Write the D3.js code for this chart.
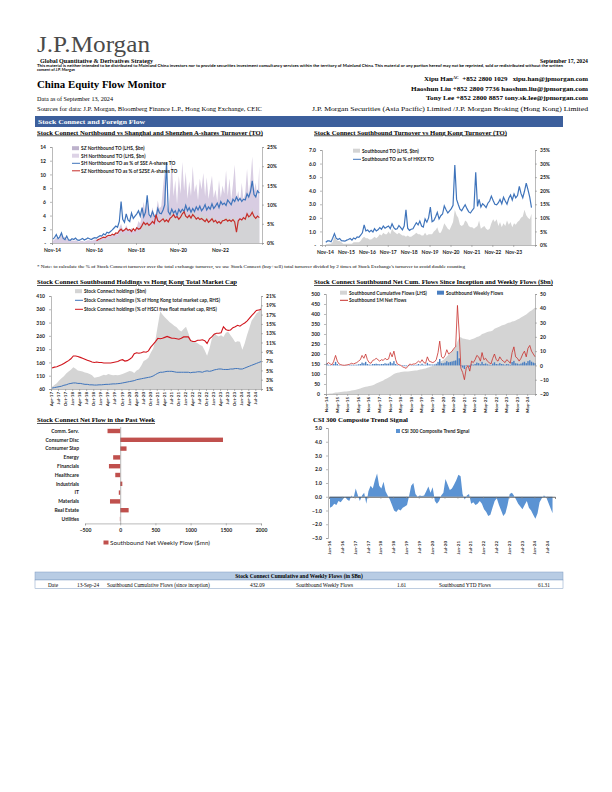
<!DOCTYPE html>
<html>
<head>
<meta charset="utf-8">
<script src="https://cdn.jsdelivr.net/npm/d3@7"></script>
<style>
body{margin:0;background:#fff;}
.ax text{font-family:Lato,"Open Sans",sans-serif;font-weight:bold;font-size:5px;fill:#222;}
.ax path,.ax line{stroke:#8c8c8c;stroke-width:0.6;}
</style>
</head>
<body>
<div id="page"></div>
<script>
// ---- chart 1: northbound turnover (monthly, Nov-14 .. Sep-24)
var nbStart = new Date(2014, 10, 15);
var nbShTO = [0.3,0.5,
  0.8,0.4,0.7,1.3,0.8,0.9,0.6,0.4,0.3,0.4,0.3,0.4,
  0.3,0.2,0.3,0.3,0.2,0.3,0.4,0.4,0.3,0.4,0.5,0.5,
  0.6,0.7,0.6,0.8,0.7,0.9,1.0,0.9,1.2,1.1,1.4,1.2,
  2.2,2.8,2.0,1.9,2.6,2.0,1.8,2.2,1.7,1.9,2.3,3.2,
  2.8,4.6,6.0,4.2,6.4,3.8,4.0,5.2,3.9,4.4,6.2,5.0,
  5.4,8.2,10.6,5.6,4.8,7.4,12.4,6.8,9.2,5.6,9.8,7.2,
  11.8,7.6,10.4,6.4,9.0,6.8,11.2,7.4,8.6,6.2,9.4,7.8,
  10.2,6.8,9.6,6.4,8.2,9.8,6.6,7.8,6.0,9.2,6.6,8.4,
  7.2,10.6,6.8,9.4,6.2,8.6,11.4,6.4,7.6,5.8,8.8,6.2,
  7.4,10.8,7.0,9.2,12.6,7.6,8.8,6.4,11.2];
var nbShPct = [1.0,1.4,
  2.2,1.1,1.6,2.6,1.2,0.9,1.8,0.8,0.7,1.1,0.9,1.3,
  0.8,0.7,0.9,1.2,0.8,1.0,1.3,1.1,0.9,1.2,1.4,1.3,
  1.6,1.9,1.8,2.4,2.1,2.8,2.6,3.0,3.4,3.9,4.4,4.1,
  5.6,10.8,6.2,5.4,7.6,6.0,5.6,7.8,6.4,7.0,7.6,8.4,
  7.0,9.2,6.8,8.0,12.4,7.4,6.8,8.2,7.0,6.6,9.0,7.8,
  7.6,8.6,10.0,21.0,8.2,7.4,8.8,7.8,8.4,7.2,8.8,8.0,
  8.8,8.2,9.8,8.4,9.2,8.0,9.0,8.2,9.4,8.6,9.6,8.4,
  9.0,10.0,8.6,9.4,8.8,10.2,9.0,9.6,10.4,9.2,10.8,10.0,
  10.4,9.8,11.2,10.6,10.0,11.4,10.8,12.0,11.0,11.6,10.8,11.4,
  11.2,12.8,12.0,13.4,16.2,12.6,12.0,13.6,13.0];
// Shenzhen connect starts Dec-16
var szStart = new Date(2016, 11, 15);
var nbSzTO = [0.1,
  0.2,0.3,0.3,0.4,0.4,0.5,0.6,0.6,0.7,0.7,0.8,0.8,
  1.2,1.6,1.3,1.2,1.6,1.4,1.2,1.3,1.2,1.3,1.5,1.7,
  1.6,2.6,3.2,2.8,3.0,2.4,2.4,2.8,2.6,2.6,3.0,3.0,
  3.2,3.8,4.2,3.4,3.0,3.6,4.8,4.2,3.8,3.6,4.2,4.0,
  5.0,4.8,4.4,3.8,4.2,4.0,4.6,4.4,4.0,3.8,4.0,4.4,
  4.0,3.8,4.2,3.6,3.4,4.0,3.6,3.4,3.2,3.2,3.6,3.4,
  3.6,3.8,3.6,3.8,3.4,3.6,3.8,3.4,3.2,3.2,3.4,3.4,
  3.6,4.2,4.0,4.0,5.2,4.2,3.8,3.6,4.4];
var nbSzPct = [0.6,
  0.9,1.1,1.3,1.5,1.4,1.8,2.0,1.9,2.3,2.1,2.6,2.5,
  3.2,3.6,3.1,3.4,3.8,3.3,3.5,3.0,3.7,3.2,4.0,3.6,
  3.8,4.6,5.4,4.8,5.2,4.6,5.0,5.6,5.1,7.4,5.8,5.5,
  5.9,6.3,5.6,6.0,5.5,6.4,6.8,7.4,6.6,6.9,6.2,6.7,
  7.6,8.1,7.0,6.6,7.2,6.5,7.4,6.9,6.2,6.6,6.1,6.4,
  6.0,5.6,6.2,5.4,5.8,6.3,5.5,5.9,5.2,5.6,5.1,5.8,
  5.9,6.2,5.7,6.0,5.6,6.1,5.5,2.8,5.8,6.3,6.0,6.6,
  6.2,7.6,6.8,7.2,8.0,6.9,6.4,7.0,6.6];

// ---- chart 2: southbound turnover (monthly, Nov-14 .. Sep-24)
var sbTO = [0.05,0.08,
  0.1,0.1,0.2,0.6,0.4,0.3,0.3,0.2,0.1,0.1,0.1,0.1,
  0.1,0.1,0.2,0.2,0.2,0.2,0.3,0.5,0.6,0.5,0.5,0.4,
  0.4,0.5,0.6,0.5,0.6,0.8,0.7,0.9,0.8,0.8,1.0,0.8,
  1.2,1.0,0.9,0.8,0.9,0.8,0.7,0.7,0.6,0.7,0.6,0.6,
  0.7,0.8,0.9,0.8,0.8,0.7,0.7,0.9,0.7,0.8,0.8,0.8,
  1.0,1.1,1.3,0.9,0.9,1.2,1.6,1.4,1.2,1.1,1.4,1.7,
  2.6,2.2,2.0,1.5,1.4,1.5,1.8,1.7,1.4,1.3,1.3,1.2,
  1.3,1.4,1.8,1.2,1.3,1.4,1.2,1.1,1.2,1.6,1.9,1.7,
  1.9,1.4,1.7,1.3,1.6,1.4,1.8,1.5,1.7,1.3,1.6,1.5,
  1.7,1.8,2.0,2.1,2.6,2.2,2.0,1.9,2.3];
var sbPct = [1.0,1.5,
  1.5,1.2,2.5,4.2,2.5,2.0,2.4,1.6,1.5,1.4,1.8,2.0,
  2.4,1.8,2.6,2.2,3.0,2.8,3.6,4.5,7.4,5.2,5.5,4.8,
  5.4,4.8,6.0,5.2,5.6,6.4,5.8,7.0,6.2,6.6,7.0,6.0,
  7.8,6.4,5.8,6.0,7.2,6.4,5.6,7.0,13.0,6.2,5.4,5.8,
  6.0,7.2,8.2,7.4,8.8,7.0,6.6,9.6,8.4,10.0,14.0,8.6,
  9.0,10.4,12.0,9.6,10.8,11.4,14.4,13.0,11.8,12.6,13.4,14.6,
  29.5,16.8,15.0,13.2,12.6,13.8,14.8,13.4,12.2,11.8,12.8,13.6,
  26.8,14.2,16.8,14.0,15.2,14.6,13.8,15.4,16.2,18.0,16.4,15.0,
  14.8,15.6,16.8,15.2,17.6,16.2,15.0,17.2,18.4,16.6,18.8,17.4,
  18.2,21.6,19.0,17.4,19.8,22.8,20.4,17.6,13.8];

// ---- chart 3: southbound holdings (monthly, Apr-17 .. Sep-24)
var hStart = new Date(2017, 3, 15);
var holdings = [68,75,82,92,100,108,118,126,132,
  142,136,130,128,126,122,120,116,112,102,104,106,
  110,114,112,116,114,112,113,112,114,116,120,124,
  128,126,120,130,134,148,165,170,178,196,212,245,
  300,352,340,330,322,312,306,298,292,282,276,286,
  294,270,246,240,236,232,226,222,205,185,212,248,
  270,262,258,262,256,272,275,262,250,236,240,238,
  208,232,262,290,318,330,344,352,372];
var hkCapPct = [1.2,1.3,1.4,1.5,1.6,1.8,1.9,2.1,2.2,
  2.3,2.3,2.2,2.2,2.1,2.0,2.0,1.9,1.9,1.85,1.85,1.9,
  1.9,1.95,2.0,2.0,2.05,2.1,2.1,2.15,2.2,2.3,2.4,2.5,
  2.6,2.7,2.8,3.0,3.1,3.2,3.3,3.4,3.5,3.6,3.8,4.1,
  4.4,4.6,4.6,4.7,4.8,4.8,4.8,4.7,4.6,4.6,4.6,4.6,
  4.6,4.6,4.5,4.6,4.6,4.7,4.7,4.6,4.8,4.9,4.8,4.9,
  5.1,5.2,5.3,5.3,5.2,5.2,5.2,5.3,5.3,5.4,5.4,5.3,
  5.3,5.5,5.7,5.9,6.1,6.3,6.5,6.7,6.9];
var hsciFfPct = [5.5,5.7,5.8,6.0,6.2,6.5,6.8,7.1,7.5,
  8.1,8.1,8.0,7.8,7.6,7.4,7.2,7.0,6.8,6.7,6.8,6.7,
  6.7,6.6,6.6,6.6,6.6,6.7,6.8,6.9,7.2,7.3,7.0,7.1,
  7.4,7.8,8.6,8.8,8.7,8.8,9.0,8.9,9.2,10.0,10.6,11.2,
  11.9,11.8,11.9,12.1,12.3,12.1,11.9,11.9,11.8,11.7,11.9,12.2,
  12.2,12.2,11.4,11.2,11.2,11.5,11.5,11.6,11.4,10.8,11.8,12.2,
  12.8,13.0,13.0,13.1,14.4,13.8,13.6,13.7,14.2,14.4,14.7,14.5,
  14.9,15.2,15.6,16.2,16.8,17.3,17.9,18.0,18.1];
var hLabels = ["Apr-17","Jul-17","Oct-17","Jan-18","Apr-18","Jul-18","Oct-18","Jan-19","Apr-19","Jul-19",
  "Oct-19","Jan-20","Apr-20","Jul-20","Oct-20","Jan-21","Apr-21","Jul-21","Oct-21","Jan-22",
  "Apr-22","Jul-22","Oct-22","Jan-23","Apr-23","Jul-23","Oct-23","Jan-24","Apr-24","Jul-24"];

// ---- chart 4: southbound net flows (monthly, Nov-14 .. Sep-24)
var sbCum = [0.5,1.5,
  2,3,5,7,8,9,10,11,12,13,14,15,
  17,19,20,22,25,28,31,34,36,38,40,41,
  44,48,52,56,60,64,68,74,78,82,88,94,
  100,104,106,108,110,111,112,112,113,114,115,116,
  117,118,120,122,124,126,128,131,134,137,140,143,
  145,150,160,165,170,178,188,196,205,215,225,235,
  262,282,284,278,276,274,272,270,274,276,280,285,
  288,292,300,303,306,310,312,314,318,326,330,334,
  338,342,345,348,352,356,358,362,364,368,372,376,
  382,388,392,398,405,412,418,425,432];
var sbWeekly = [1.5,0.5,
  0.3,0.2,1.0,2.5,1.0,0.3,0.2,0.1,0.1,0.2,0.2,0.3,
  0.5,0.3,0.5,0.5,0.8,1.0,2.0,1.5,2.5,1.0,0.6,0.5,
  1.0,1.0,1.2,1.0,0.8,1.0,1.0,1.5,1.2,1.3,2.5,1.5,
  3.0,1.0,0.3,0.2,0.0,-0.4,-0.5,-0.6,-0.2,0.3,0.2,0.3,
  0.3,0.5,1.0,0.5,1.2,0.5,0.5,1.8,0.8,0.7,0.6,0.7,
  1.2,2.5,4.5,1.6,1.5,2.0,3.0,2.2,2.5,2.8,3.2,3.5,
  10.0,5.0,-0.5,-1.5,-2.5,-0.5,0.0,-1.0,0.8,0.5,1.0,2.0,
  1.6,0.8,2.5,1.0,1.4,0.8,0.5,0.3,1.3,2.2,1.0,0.8,
  1.6,1.0,0.8,0.5,1.0,0.8,0.4,2.4,3.2,1.5,1.3,0.8,
  1.3,2.0,2.6,1.6,3.0,3.6,2.6,2.0,1.6];
var sb1m = [1.0,2.0,
  1.0,0.5,3.0,7.0,3.0,1.0,0.5,0.2,0.1,0.3,0.5,0.8,
  1.5,1.0,1.5,2.0,3.0,4.0,7.0,5.0,8.0,4.0,2.0,1.5,
  3.5,4.0,5.0,4.0,3.0,4.0,3.5,5.0,4.0,4.5,9.0,6.0,
  10.0,4.0,1.0,0.5,0.0,-1.0,-1.5,-2.0,-0.5,1.0,0.5,1.0,
  1.0,2.0,3.0,2.0,4.0,2.0,1.5,6.0,3.0,2.5,2.0,2.5,
  4.0,9.0,17.0,6.0,5.0,7.0,11.0,8.0,9.0,10.0,12.0,13.0,
  42.0,22.0,-2.0,-5.0,-10.0,-2.0,0.0,-4.0,3.0,2.0,4.0,7.0,
  6.0,3.0,9.0,4.0,5.0,3.0,2.0,1.0,5.0,8.0,4.0,3.0,
  6.0,4.0,3.0,2.0,4.0,3.0,1.5,9.0,13.0,6.0,5.0,3.0,
  5.0,8.0,10.0,6.0,12.0,14.0,10.0,8.0,6.0];

// ---- chart 5: net flow by sector, past week ($mn)
var sectors = ["Comm. Serv.","Consumer Disc","Consumer Stap","Energy","Financials","Healthcare",
  "Industrials","IT","Materials","Real Estate","Utilities"];
var sectorFlow = [-180,1460,90,-100,-160,-70,30,-20,-145,120,-5];

// ---- chart 6: CSI 300 composite trend signal (monthly, Jan-16 .. Sep-24)
var csiStart = new Date(2016, 0, 15);
var csiSignal = [-0.8,-0.7,-0.5,-0.6,-0.3,-0.4,-0.2,0.0,-0.2,-0.3,0.1,-0.1,
  0.6,0.1,-0.3,0.1,0.3,-0.5,0.4,0.8,0.6,1.2,1.7,0.8,
  0.6,1.1,0.4,0.1,-0.2,-0.6,-1.0,-1.1,-0.9,-1.0,-0.8,-0.7,
  -0.6,0.1,0.8,1.0,0.2,0.0,0.1,0.05,0.1,0.4,0.75,0.3,
  0.7,-0.3,-0.5,-0.3,0.1,0.3,1.3,0.9,0.5,0.6,0.9,1.2,
  1.6,1.5,0.2,-0.2,0.1,0.2,-0.5,-0.4,-0.6,-0.5,-0.3,-0.5,
  -0.9,-1.1,-1.4,-1.3,-0.8,-0.3,-0.1,-0.6,-1.0,-1.4,-1.2,-0.6,
  0.2,0.3,0.1,-0.2,-0.5,-0.7,-0.9,-0.6,-0.3,-0.8,-1.0,-1.3,
  -1.6,-1.2,-0.4,-0.1,0.1,0.0,-0.4,-0.8,-1.2];
var csiLabels = ["Jan-16","Jul-16","Jan-17","Jul-17","Jan-18","Jul-18","Jan-19","Jul-19","Jan-20",
  "Jul-20","Jan-21","Jul-21","Jan-22","Jul-22","Jan-23","Jul-23","Jan-24","Jul-24"];

// ---- summary table
var tableRow = ["Date","13-Sep-24","Southbound Cumulative Flows (since inception)","432.09",
  "Southbound Weekly Flows","1.61","Southbound YTD Flows","61.31"];

var SERIF = "'Liberation Serif','Times New Roman',serif";
var SANS = "Lato,'Open Sans',sans-serif";
var fmtMon = d3.timeFormat("%b-%y");
var parseMon = d3.timeParse("%b-%y");

var svg = d3.select("#page").append("svg")
  .attr("width", 612)
  .attr("height", 792);

function addText(x, y, s, size, o){
  o = o || {};
  var t = svg.append("text")
    .attr("x", x).attr("y", y)
    .attr("text-anchor", o.anchor || "start")
    .attr("fill", o.fill || "#000")
    .style("font-family", o.sans ? SANS : SERIF)
    .style("font-size", size + "px")
    .style("font-weight", o.bold ? "bold" : "normal")
    .text(s);
  if (o.len) t.attr("textLength", o.len).attr("lengthAdjust", "spacingAndGlyphs");
  if (o.under) t.style("text-decoration", "underline");
  return t;
}

function monthly(start, vals){
  return vals.map(function(v, i){ return {d: d3.timeMonth.offset(start, i), v: v}; });
}

function legendItem(x, y, color, label, kind){
  if (kind === "line") {
    svg.append("line").attr("x1", x).attr("x2", x + 8).attr("y1", y - 1.7).attr("y2", y - 1.7)
      .attr("stroke", color).attr("stroke-width", 1);
  } else {
    svg.append("rect").attr("x", x).attr("y", y - 3.8).attr("width", 7).attr("height", 4).attr("fill", color);
  }
  addText(x + 9, y, label, 4.8, {sans: true, bold: true, fill: "#222"});
}

function monthAxisDates(labels){
  return labels.map(function(l){ return parseMon(l); });
}

// ================= header =================
addText(37, 52, "J.P.Morgan", 23, {fill: "#4a4a4a", len: 113});
addText(40, 62.5, "Global Quantitative & Derivatives Strategy", 5.8, {bold: true, len: 113});
addText(37, 67, "This material is neither intended to be distributed to Mainland China investors nor to provide securities investment consultancy services within the territory of Mainland China. This material or any portion hereof may not be reprinted, sold or redistributed without the written",
  3.6, {sans: true, bold: true, len: 526});
addText(37, 71, "consent of J.P. Morgan", 3.6, {sans: true, bold: true, len: 38});
addText(588, 62.5, "September 17, 2024", 5.5, {bold: true, anchor: "end", len: 48});
addText(37, 88, "China Equity Flow Monitor", 11, {bold: true, len: 129});
addText(37, 101, "Data as of September 13, 2024", 5.5, {len: 76});
addText(37, 110.5, "Sources for data: J.P. Morgan, Bloomberg Finance L.P., Hong Kong Exchange, CEIC", 5.5, {len: 225});

var xipu = addText(588, 81, "", 5.6, {bold: true, anchor: "end"});
xipu.append("tspan").text("Xipu Han");
xipu.append("tspan").text("AC").style("font-size", "3.3px").attr("dy", -1.8);
xipu.append("tspan").text("\u00a0\u00a0+852 2800 1029\u00a0\u00a0\u00a0xipu.han@jpmorgan.com").attr("dy", 1.8);
xipu.attr("textLength", 164).attr("lengthAdjust", "spacingAndGlyphs");
addText(588, 90.5, "Haoshun Liu  +852 2800 7736   haoshun.liu@jpmorgan.com", 5.5, {bold: true, anchor: "end", len: 177});
addText(588, 99.5, "Tony Lee  +852 2800 8857   tony.sk.lee@jpmorgan.com", 5.5, {bold: true, anchor: "end", len: 162});
addText(588, 110.5, "J.P. Morgan Securities (Asia Pacific) Limited /J.P. Morgan Broking (Hong Kong) Limited", 5.5, {anchor: "end", len: 276});

// section banner
svg.append("rect").attr("x", 35).attr("y", 116).attr("width", 528).attr("height", 11).attr("fill", "#3c5f9c");
addText(38, 124.3, "Stock Connect and Foreign Flow", 6.5, {bold: true, fill: "#fff", len: 107});

// ================= chart 1 =================
addText(37, 134.5, "Stock Connect Northbound vs Shanghai and Shenzhen A-shares Turnover (TO)", 6.8, {bold: true, under: true, len: 226});

var x1 = d3.scaleTime().domain([new Date(2014, 10, 1), new Date(2024, 10, 1)]).range([52, 262]);
var y1 = d3.scaleLinear().domain([0, 14]).range([243, 147]);
var y1r = d3.scaleLinear().domain([0, 25]).range([243, 147]);

svg.append("path").datum(monthly(nbStart, nbShTO))
  .attr("fill", "#d8cde2")
  .attr("d", d3.area().x(function(d){ return x1(d.d); }).y0(y1(0)).y1(function(d){ return y1(d.v); }));
svg.append("path").datum(monthly(szStart, nbSzTO))
  .attr("fill", "#d3d3d6")
  .attr("d", d3.area().x(function(d){ return x1(d.d); }).y0(y1(0)).y1(function(d){ return y1(d.v); }));
svg.append("path").datum(monthly(nbStart, nbShPct))
  .attr("fill", "none").attr("stroke", "#3f74bb").attr("stroke-width", 1.2)
  .attr("d", d3.line().x(function(d){ return x1(d.d); }).y(function(d){ return y1r(d.v); }));
svg.append("path").datum(monthly(szStart, nbSzPct))
  .attr("fill", "none").attr("stroke", "#c62d2a").attr("stroke-width", 1.2)
  .attr("d", d3.line().x(function(d){ return x1(d.d); }).y(function(d){ return y1r(d.v); }));

svg.append("g").attr("class", "ax").attr("transform", "translate(52,0)")
  .call(d3.axisLeft(y1).tickValues(d3.range(0, 15, 2)).tickSize(2).tickPadding(4)
    .tickFormat(function(d){ return d === 0 ? "-" : d; }));
svg.append("g").attr("class", "ax").attr("transform", "translate(262,0)")
  .call(d3.axisRight(y1r).tickValues(d3.range(0, 26, 5)).tickSize(2).tickPadding(3)
    .tickFormat(function(d){ return d + "%"; }));
svg.append("g").attr("class", "ax").attr("transform", "translate(0,243)")
  .call(d3.axisBottom(x1).tickValues(monthAxisDates(["Nov-14","Nov-16","Nov-18","Nov-20","Nov-22"]))
    .tickSize(2).tickPadding(3).tickFormat(fmtMon));

legendItem(72, 150, "#bdb2cc", "SZ Northbound TO (LHS, $bn)");
legendItem(72, 157.5, "#ddd3e6", "SH Northbound TO (LHS, $bn)");
legendItem(72, 165, "#3f74bb", "SH Northbound TO as % of SSE A-shares TO", "line");
legendItem(72, 172.5, "#c62d2a", "SZ Northbound TO as % of SZSE A-shares TO", "line");

addText(37, 268, "* Note: to calculate the % of Stock Connect turnover over the total exchange turnover, we use Stock Connect (buy+sell) total turnover divided by 2 times of Stock Exchange's turnover to avoid double counting",
  4.3, {len: 428});

// ================= chart 2 =================
addText(314, 134.5, "Stock Connect Southbound Turnover vs Hong Kong Turnover (TO)", 6.8, {bold: true, under: true, len: 193});

var x2 = d3.scaleTime().domain([new Date(2014, 8, 10), new Date(2024, 10, 15)]).range([322, 535]);
var y2 = d3.scaleLinear().domain([0, 7]).range([245, 150]);
var y2r = d3.scaleLinear().domain([0, 35]).range([245, 150]);

svg.append("path").datum(monthly(nbStart, sbTO))
  .attr("fill", "#d4d4d4")
  .attr("d", d3.area().x(function(d){ return x2(d.d); }).y0(y2(0)).y1(function(d){ return y2(d.v); }));
svg.append("path").datum(monthly(nbStart, sbPct))
  .attr("fill", "none").attr("stroke", "#3f74bb").attr("stroke-width", 1.2)
  .attr("d", d3.line().x(function(d){ return x2(d.d); }).y(function(d){ return y2r(d.v); }));

svg.append("g").attr("class", "ax").attr("transform", "translate(322,0)")
  .call(d3.axisLeft(y2).tickValues(d3.range(0, 8, 1)).tickSize(2).tickPadding(4)
    .tickFormat(function(d){ return d === 0 ? "-" : d3.format(".1f")(d); }));
svg.append("g").attr("class", "ax").attr("transform", "translate(535,0)")
  .call(d3.axisRight(y2r).tickValues(d3.range(0, 36, 5)).tickSize(2).tickPadding(3)
    .tickFormat(function(d){ return d + "%"; }));
svg.append("g").attr("class", "ax").attr("transform", "translate(0,245)")
  .call(d3.axisBottom(x2).tickValues(monthAxisDates(["Nov-14","Nov-15","Nov-16","Nov-17","Nov-18","Nov-19","Nov-20","Nov-21","Nov-22","Nov-23"]))
    .tickSize(2).tickPadding(3).tickFormat(fmtMon));

legendItem(353, 152.5, "#d4d4d4", "Southbound TO (LHS, $bn)");
legendItem(353, 161, "#3f74bb", "Southbound TO as % of HKEX TO", "line");

// ================= chart 3 =================
addText(37, 284, "Stock Connect Southbound Holdings vs Hong Kong Total Market Cap", 6.8, {bold: true, under: true, len: 200});

var x3 = d3.scaleTime().domain([new Date(2017, 3, 1), new Date(2024, 8, 13)]).range([51, 261]);
var y3 = d3.scaleLinear().domain([60, 410]).range([389, 296]);
var y3r = d3.scaleLinear().domain([1, 21]).range([389, 296]);

svg.append("path").datum(monthly(hStart, holdings))
  .attr("fill", "#d4d4d4")
  .attr("d", d3.area().x(function(d){ return x3(d.d); }).y0(y3(60)).y1(function(d){ return y3(d.v); }));
svg.append("path").datum(monthly(hStart, hkCapPct))
  .attr("fill", "none").attr("stroke", "#3f74bb").attr("stroke-width", 1)
  .attr("d", d3.line().x(function(d){ return x3(d.d); }).y(function(d){ return y3r(d.v); }));
svg.append("path").datum(monthly(hStart, hsciFfPct))
  .attr("fill", "none").attr("stroke", "#d0141c").attr("stroke-width", 1.1)
  .attr("d", d3.line().x(function(d){ return x3(d.d); }).y(function(d){ return y3r(d.v); }));

svg.append("g").attr("class", "ax").attr("transform", "translate(51,0)")
  .call(d3.axisLeft(y3).tickValues(d3.range(60, 411, 50)).tickSize(2).tickPadding(4));
svg.append("g").attr("class", "ax").attr("transform", "translate(261,0)")
  .call(d3.axisRight(y3r).tickValues(d3.range(1, 22, 2)).tickSize(2).tickPadding(3)
    .tickFormat(function(d){ return d + "%"; }));
svg.append("g").attr("class", "ax").attr("transform", "translate(0,389)")
  .call(d3.axisBottom(x3).tickValues(monthAxisDates(hLabels)).tickSize(2).tickFormat(fmtMon))
  .selectAll("text")
    .attr("x", -3).attr("y", 0).attr("dy", "0.35em")
    .attr("transform", "rotate(-90)").style("text-anchor", "end").style("font-size", "4.5px");

legendItem(75, 293, "#d4d4d4", "Stock Connect holdings ($bn)");
legendItem(75, 302, "#3f74bb", "Stock Connect holdings (% of Hong Kong total market cap, RHS)", "line");
legendItem(75, 311, "#d0141c", "Stock Connect holdings (% of HSCI free float market cap, RHS)", "line");

// ================= chart 4 =================
addText(314, 284, "Stock Connect Southbound Net Cum. Flows Since Inception and Weekly Flows ($bn)", 6.8, {bold: true, under: true, len: 239});

var x4 = d3.scaleTime().domain([new Date(2014, 10, 1), new Date(2024, 8, 13)]).range([326, 535]);
var y4 = d3.scaleLinear().domain([0, 500]).range([394, 294]);
var y4r = d3.scaleLinear().domain([-20, 50]).range([394, 294]);

svg.append("path").datum(monthly(nbStart, sbCum))
  .attr("fill", "#d4d4d4")
  .attr("d", d3.area().x(function(d){ return x4(d.d); }).y0(y4(0)).y1(function(d){ return y4(d.v); }));
svg.append("g").selectAll("rect").data(monthly(nbStart, sbWeekly)).join("rect")
  .attr("x", function(d){ return x4(d.d) - 0.7; })
  .attr("width", 1.4)
  .attr("y", function(d){ return Math.min(y4r(0), y4r(d.v)); })
  .attr("height", function(d){ return Math.abs(y4r(d.v) - y4r(0)); })
  .attr("fill", "#4a7fc1");
svg.append("path").datum(monthly(nbStart, sb1m))
  .attr("fill", "none").attr("stroke", "#c8302c").attr("stroke-width", 0.8)
  .attr("d", d3.line().x(function(d){ return x4(d.d); }).y(function(d){ return y4r(d.v); }));

svg.append("g").attr("class", "ax").attr("transform", "translate(326,0)")
  .call(d3.axisLeft(y4).tickValues(d3.range(0, 501, 50)).tickSize(2).tickPadding(4));
svg.append("g").attr("class", "ax").attr("transform", "translate(535,0)")
  .call(d3.axisRight(y4r).tickValues(d3.range(-20, 51, 10)).tickSize(2).tickPadding(3));
svg.append("g").attr("class", "ax").attr("transform", "translate(0,394)")
  .call(d3.axisBottom(x4).tickValues(monthAxisDates(["Nov-14","May-15","Nov-15","May-16","Nov-16","May-17","Nov-17","May-18","Nov-18","May-19",
      "Nov-19","May-20","Nov-20","May-21","Nov-21","May-22","Nov-22","May-23","Nov-23","May-24"]))
    .tickSize(2).tickFormat(fmtMon))
  .selectAll("text")
    .attr("x", -3).attr("y", 0).attr("dy", "0.35em")
    .attr("transform", "rotate(-90)").style("text-anchor", "end").style("font-size", "4.5px");

legendItem(340, 294.5, "#d4d4d4", "Southbound Cumulative Flows (LHS)");
legendItem(437, 294.5, "#4a7fc1", "Southbound Weekly Flows");
legendItem(340, 302, "#c8302c", "Southbound 1M Net Flows", "line");

// ================= chart 5 =================
addText(37, 422, "Stock Connect Net Flow in the Past Week", 6.8, {bold: true, under: true, len: 118});

var x5 = d3.scaleLinear().domain([-500, 2000]).range([85, 261]);
var y5 = d3.scaleBand().domain(sectors).range([426.6, 523.4]).paddingInner(0.5).paddingOuter(0.25);

svg.append("g").selectAll("rect").data(sectors).join("rect")
  .attr("x", function(d, i){ return x5(Math.min(0, sectorFlow[i])); })
  .attr("y", function(d){ return y5(d); })
  .attr("width", function(d, i){ return Math.abs(x5(sectorFlow[i]) - x5(0)); })
  .attr("height", y5.bandwidth())
  .attr("fill", "#c0504d");

svg.append("g").attr("class", "ax").attr("transform", "translate(0,523.4)")
  .call(d3.axisBottom(x5).tickValues(d3.range(-500, 2001, 500)).tickSize(2).tickPadding(3).tickFormat(d3.format("d")));
svg.append("g").attr("class", "ax").attr("transform", "translate(" + x5(0) + ",0)")
  .call(d3.axisLeft(y5).tickSize(0).tickFormat(""));
sectors.forEach(function(s){
  addText(79, y5(s) + y5.bandwidth() / 2 + 1.7, s, 5, {sans: true, bold: true, anchor: "end", fill: "#222"});
});
svg.append("rect").attr("x", 103.5).attr("y", 540.5).attr("width", 5).attr("height", 4).attr("fill", "#c0504d");
addText(110, 544.5, "Southbound Net Weekly Flow ($mn)", 5, {sans: true, fill: "#222", len: 100});

// ================= chart 6 =================
addText(313, 421.5, "CSI 300 Composite Trend Signal", 6.8, {bold: true, len: 95});

var x6 = d3.scaleTime().domain([new Date(2016, 0, 1), new Date(2024, 9, 20)]).range([329, 555]);
var y6 = d3.scaleLinear().domain([-3, 5]).range([538, 428]);

svg.append("path").datum(monthly(csiStart, csiSignal))
  .attr("fill", "#5b93d3")
  .attr("d", d3.area().x(function(d){ return x6(d.d); }).y0(y6(0)).y1(function(d){ return y6(d.v); }));

svg.append("g").attr("class", "ax").attr("transform", "translate(328,0)")
  .call(d3.axisLeft(y6).tickValues(d3.range(-3, 5.1, 1)).tickSize(2).tickPadding(4).tickFormat(d3.format(".1f")));
svg.append("g").attr("class", "ax").attr("transform", "translate(0," + y6(0) + ")")
  .call(d3.axisBottom(x6).tickValues(monthAxisDates(csiLabels)).tickSize(2).tickFormat(""))
  .select(".domain").style("stroke", "#555").style("stroke-width", 0.9);
var c6lab = svg.append("g").attr("class", "ax").attr("transform", "translate(0,538)")
  .call(d3.axisBottom(x6).tickValues(monthAxisDates(csiLabels)).tickSize(0).tickFormat(fmtMon));
c6lab.select(".domain").remove();
c6lab.selectAll("text")
  .attr("x", -3).attr("y", 0).attr("dy", "0.35em")
  .attr("transform", "rotate(-90)").style("text-anchor", "end").style("font-size", "4.5px");

svg.append("rect").attr("x", 396).attr("y", 429).attr("width", 4).attr("height", 4).attr("fill", "#5b93d3");
addText(401.5, 433, "CSI 300 Composite Trend Signal", 4.8, {sans: true, bold: true, fill: "#222"});

// ================= summary table =================
svg.append("rect").attr("x", 35).attr("y", 572).attr("width", 528).attr("height", 8)
  .attr("fill", "#b8cce4").attr("stroke", "#7f9cc2").attr("stroke-width", 0.5);
svg.append("rect").attr("x", 35).attr("y", 580).attr("width", 528).attr("height", 8.5)
  .attr("fill", "#fff").attr("stroke", "#7f9cc2").attr("stroke-width", 0.5);
addText(299, 578.3, "Stock Connect Cumulative and Weekly Flows (in $Bn)", 5.5, {bold: true, anchor: "middle"});
var colX = [48, 77, 107, 250, 296, 397, 439, 538];
tableRow.forEach(function(s, i){
  addText(colX[i], 586.5, s, 5.3);
});
</script>
</body>
</html>
